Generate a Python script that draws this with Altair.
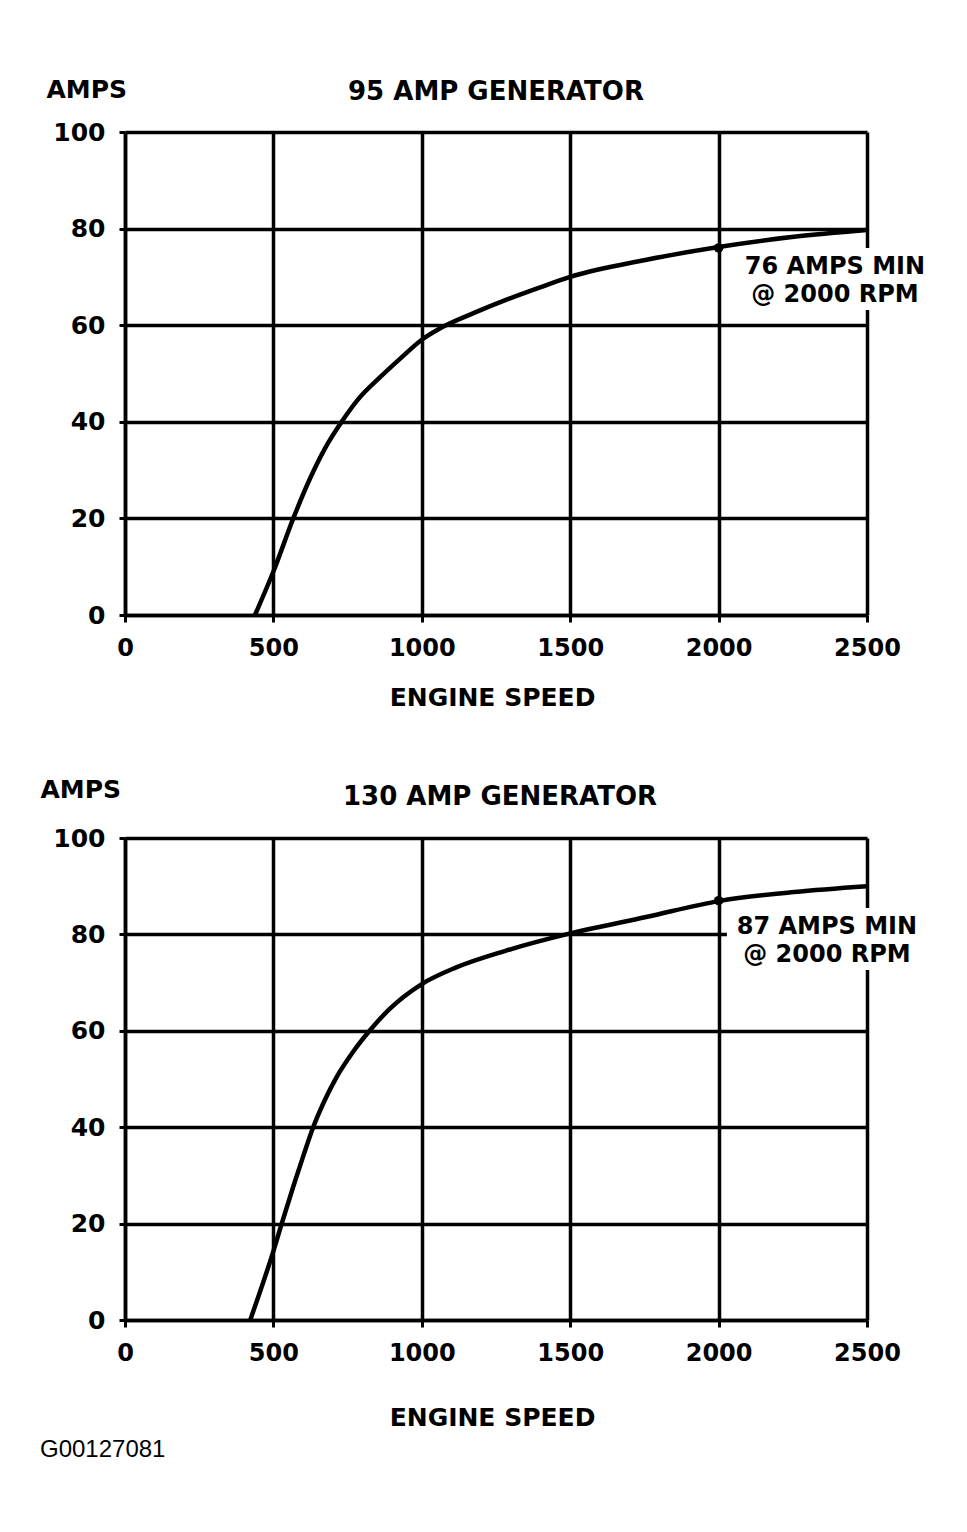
import altair as alt
import pandas as pd

FONT = "DejaVu Sans"

X_TICKS = [0, 500, 1000, 1500, 2000, 2500]
Y_TICKS = [0, 20, 40, 60, 80, 100]

# 95 AMP generator curve (engine rpm, amps)
RPM_95 = [438, 500, 567, 623, 673, 730, 786, 864, 931, 1000, 1066, 1178, 1290, 1401, 1500,
          1753, 2000, 2254, 2500]
AMPS_95 = [0, 9, 20, 28.2, 34.4, 40, 44.7, 49.5, 53.3, 57, 59.5, 62.6, 65.4, 67.9, 70.0,
           73.5, 76.2, 78.3, 79.7]

# 130 AMP generator curve
RPM_130 = [422, 500, 528, 567, 600, 634, 673, 712, 768, 824, 891, 1000, 1114, 1282, 1500,
           1756, 2000, 2255, 2500]
AMPS_130 = [0, 14.3, 20, 27.7, 33.9, 40, 45.6, 50.3, 55.6, 60, 64.5, 69.7, 73.1, 76.6, 80.2,
            83.6, 86.9, 88.8, 90]

TITLES = ["95 AMP GENERATOR", "130 AMP GENERATOR"]
MARK_RPM = [2000, 2000]
MARK_AMPS = [76, 87]
NOTE_TEXT = ["76 AMPS MIN\n@ 2000 RPM", "87 AMPS MIN\n@ 2000 RPM"]
NOTE_RPM = [2392, 2365]
NOTE_AMPS = [70.6, 80.1]
FOOTER = "G00127081"

W = 742
GRID_W = 3.5


def panel(rpm, amps, title, mark_rpm, mark_amps, note, note_rpm, note_amps,
          h, amps_x, amps_y, title_dx, title_dy, xtitle_y):
    x_enc = alt.X(
        "rpm:Q",
        scale=alt.Scale(domain=[0, 2500], nice=False, zero=False),
        axis=alt.Axis(
            values=X_TICKS, grid=True, gridColor="black", gridWidth=GRID_W, gridOpacity=1,
            domainColor="black", domainWidth=GRID_W, tickColor="black", tickWidth=3, tickSize=7,
            labelFont=FONT, labelFontSize=24, labelFontWeight="bold", labelColor="black",
            labelPadding=14, labelFlush=False, labelOverlap=False, format="d",
            title="ENGINE SPEED", titleFont=FONT, titleFontSize=25, titleFontWeight="bold",
            titleColor="black", titleX=W / 2 - 4, titleY=xtitle_y, titleAlign="center",
            titleBaseline="alphabetic",
        ),
    )
    y_enc = alt.Y(
        "amps:Q",
        scale=alt.Scale(domain=[0, 100], nice=False),
        axis=alt.Axis(
            values=Y_TICKS, grid=True, gridColor="black", gridWidth=GRID_W, gridOpacity=1,
            domainColor="black", domainWidth=GRID_W, tickColor="black", tickWidth=3, tickSize=6,
            labelFont=FONT, labelFontSize=25, labelFontWeight="bold", labelColor="black",
            labelPadding=14, labelOverlap=False, format="d",
            title="AMPS", titleFont=FONT, titleFontSize=25, titleFontWeight="bold",
            titleColor="black", titleAngle=0, titleAlign="left", titleBaseline="alphabetic",
            titleX=amps_x, titleY=amps_y,
        ),
    )
    note_df = pd.DataFrame({"rpm": [note_rpm], "amps": [note_amps], "t": [note]})
    # white label background that interrupts the grid lines behind the note
    box = alt.Chart(note_df).mark_rect(
        color="white", opacity=1, xOffset=-100, x2Offset=102, yOffset=-26, y2Offset=36
    ).encode(x=x_enc, x2="rpm:Q", y=y_enc, y2="amps:Q")
    curve = alt.Chart(pd.DataFrame({"rpm": rpm, "amps": amps})).mark_line(
        color="black", strokeWidth=4.5, interpolate="monotone"
    ).encode(x=x_enc, y=y_enc)
    dot = alt.Chart(pd.DataFrame({"rpm": [mark_rpm], "amps": [mark_amps]})).mark_point(
        filled=True, size=90, color="black", opacity=1
    ).encode(x=x_enc, y=y_enc)
    text = alt.Chart(note_df).mark_text(
        font=FONT, fontSize=24, fontWeight="bold", align="center", baseline="alphabetic",
        lineBreak="\n", lineHeight=28, color="black",
    ).encode(x=x_enc, y=y_enc, text="t:N")
    return alt.layer(box, curve, dot, text).properties(
        width=W, height=h,
        title=alt.TitleParams(
            title, font=FONT, fontSize=26, fontWeight="bold", color="black",
            anchor="middle", frame="group", baseline="alphabetic", offset=0,
            dx=title_dx, dy=title_dy,
        ),
    )


top = panel(RPM_95, AMPS_95, TITLES[0], MARK_RPM[0], MARK_AMPS[0], NOTE_TEXT[0],
            NOTE_RPM[0], NOTE_AMPS[0], 483, -79, -35, 0, 49, 90)
bottom = panel(RPM_130, AMPS_130, TITLES[1], MARK_RPM[1], MARK_AMPS[1], NOTE_TEXT[1],
               NOTE_RPM[1], NOTE_AMPS[1], 482, -85, -41, 4, 54, 105)

chart = alt.vconcat(top, bottom, spacing=223, bounds="flush").properties(
    title=alt.TitleParams(
        FOOTER, orient="bottom", anchor="start", font="Liberation Sans", fontSize=24,
        fontWeight="normal", color="black", offset=8,
    ),
    padding={"left": 32, "top": 69, "right": 5, "bottom": 5},
    background="white",
).configure_view(stroke=None)

chart.save("out.html", embed_options={"renderer": "svg", "actions": False})
